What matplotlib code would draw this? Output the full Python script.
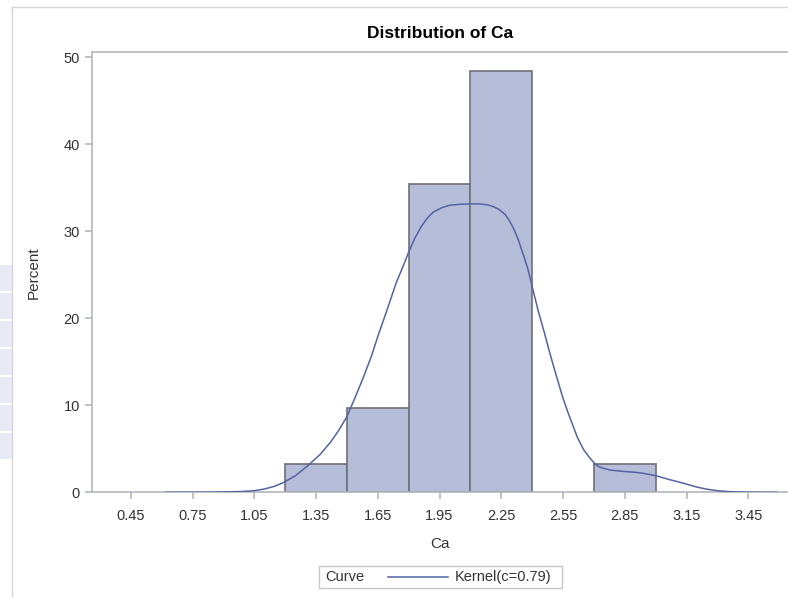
import matplotlib.pyplot as plt
import matplotlib.patches as mpatches
from matplotlib.lines import Line2D

plt.rcParams['font.family'] = ['Liberation Sans', 'DejaVu Sans']

# histogram of Ca (percent per bin, 31 obs)
bin_left = [1.2, 1.5, 1.8, 2.1, 2.7]
bin_width = 0.3
percent = [3.23, 9.68, 35.48, 48.39, 3.23]

# kernel curve
kx = [0.62, 0.80, 0.90, 0.98, 1.05, 1.10, 1.15, 1.19, 1.25, 1.31, 1.37, 1.42,
      1.46, 1.50, 1.54, 1.58, 1.62, 1.65, 1.70, 1.74, 1.77, 1.80, 1.83, 1.86,
      1.89, 1.92, 1.96, 2.00, 2.05, 2.10, 2.14, 2.18, 2.21, 2.24, 2.27, 2.29,
      2.31, 2.33, 2.36, 2.38, 2.41, 2.43, 2.46, 2.48, 2.51, 2.55, 2.58, 2.62,
      2.65, 2.68, 2.70, 2.72, 2.74, 2.78, 2.82, 2.86, 2.90, 2.94, 2.98, 3.01,
      3.06, 3.11, 3.16, 3.20, 3.25, 3.30, 3.36, 3.43, 3.50, 3.59]
ky = [0.0, 0.01, 0.04, 0.08, 0.18, 0.38, 0.7, 1.1, 1.9, 3.05, 4.35, 5.75,
      7.1, 8.7, 10.9, 13.2, 15.7, 17.9, 21.3, 24.1, 25.8, 27.6, 29.2, 30.5,
      31.5, 32.2, 32.7, 33.0, 33.1, 33.15, 33.15, 33.05, 32.85, 32.5, 31.9, 31.2,
      30.3, 29.2, 27.1, 25.6, 22.7, 20.8, 18.3, 16.5, 14.0, 10.8, 8.8, 6.3,
      4.9, 3.95, 3.4, 3.0, 2.8, 2.55, 2.45, 2.37, 2.3, 2.18, 2.0, 1.85,
      1.5, 1.2, 0.87, 0.6, 0.35, 0.18, 0.07, 0.02, 0.0, 0.0]

xticks = [0.45, 0.75, 1.05, 1.35, 1.65, 1.95, 2.25, 2.55, 2.85, 3.15, 3.45]
yticks = [0, 10, 20, 30, 40, 50]

grey = '#b3b7bc'
txt = '#333333'

fig = plt.figure(figsize=(7.88, 5.97), dpi=100)
ax = fig.add_axes([0.1171, 0.1754, 0.8829, 0.7370])

ax.bar(bin_left, percent, width=bin_width, align='edge', color='#b6bdd9',
       edgecolor='#6e7179', linewidth=1.2, zorder=2)
ax.plot(kx, ky, color='#5463a3', linewidth=1.1, zorder=3)

ax.set_xlim(0.263, 3.643)
ax.set_ylim(0, 50.57)
ax.set_xticks(xticks)
ax.set_xticklabels([f'{v:.2f}' for v in xticks])
ax.set_yticks(yticks)

for s in ['left', 'top', 'bottom']:
    ax.spines[s].set_color(grey)
    ax.spines[s].set_linewidth(1.2)
ax.spines['right'].set_visible(False)
ax.tick_params(axis='both', colors=grey, labelcolor=txt, labelsize=10.5,
               length=5, width=1.2, direction='out')
ax.tick_params(axis='x', pad=7)
ax.tick_params(axis='y', pad=4)

ax.set_title('Distribution of Ca', fontsize=12.5, fontweight='bold', pad=10)
ax.set_xlabel('Ca', fontsize=11, color=txt, labelpad=10)
ax.set_ylabel('Percent', fontsize=11, color=txt, labelpad=16)

# legend box drawn by hand: "Curve" then the line sample
W, H = 788.0, 597.0
fig.patches.append(mpatches.Rectangle((319.3 / W, 1 - 587.7 / H), 243 / W, 22 / H,
                                      transform=fig.transFigure, fill=False,
                                      edgecolor='#c8c8c8', linewidth=1.0))
fig.text(325 / W, 1 - 577 / H, 'Curve', fontsize=10.5, color=txt, va='center')
fig.lines.append(Line2D([388 / W, 447.7 / W], [1 - 577 / H, 1 - 577 / H],
                        transform=fig.transFigure, color='#5463a3', linewidth=1.1))
fig.text(455 / W, 1 - 577 / H, 'Kernel(c=0.79)', fontsize=10.5, color=txt, va='center')

# outer frame of the output window
fig.lines.append(Line2D([11.7 / W, 1.0], [1 - 7.3 / H, 1 - 7.3 / H],
                        transform=fig.transFigure, color='#d6d6d6', linewidth=1.0))
fig.lines.append(Line2D([11.7 / W, 11.7 / W], [0, 1 - 7.3 / H],
                        transform=fig.transFigure, color='#d6d6d6', linewidth=1.0))
for i in range(7):
    top = 265 + i * 28
    fig.patches.append(mpatches.Rectangle((0, 1 - (top + 26) / H), 11.5 / W, 26 / H,
                                          transform=fig.transFigure,
                                          facecolor='#e8eaf6', edgecolor='none'))

fig.savefig('out.png', dpi=100)
